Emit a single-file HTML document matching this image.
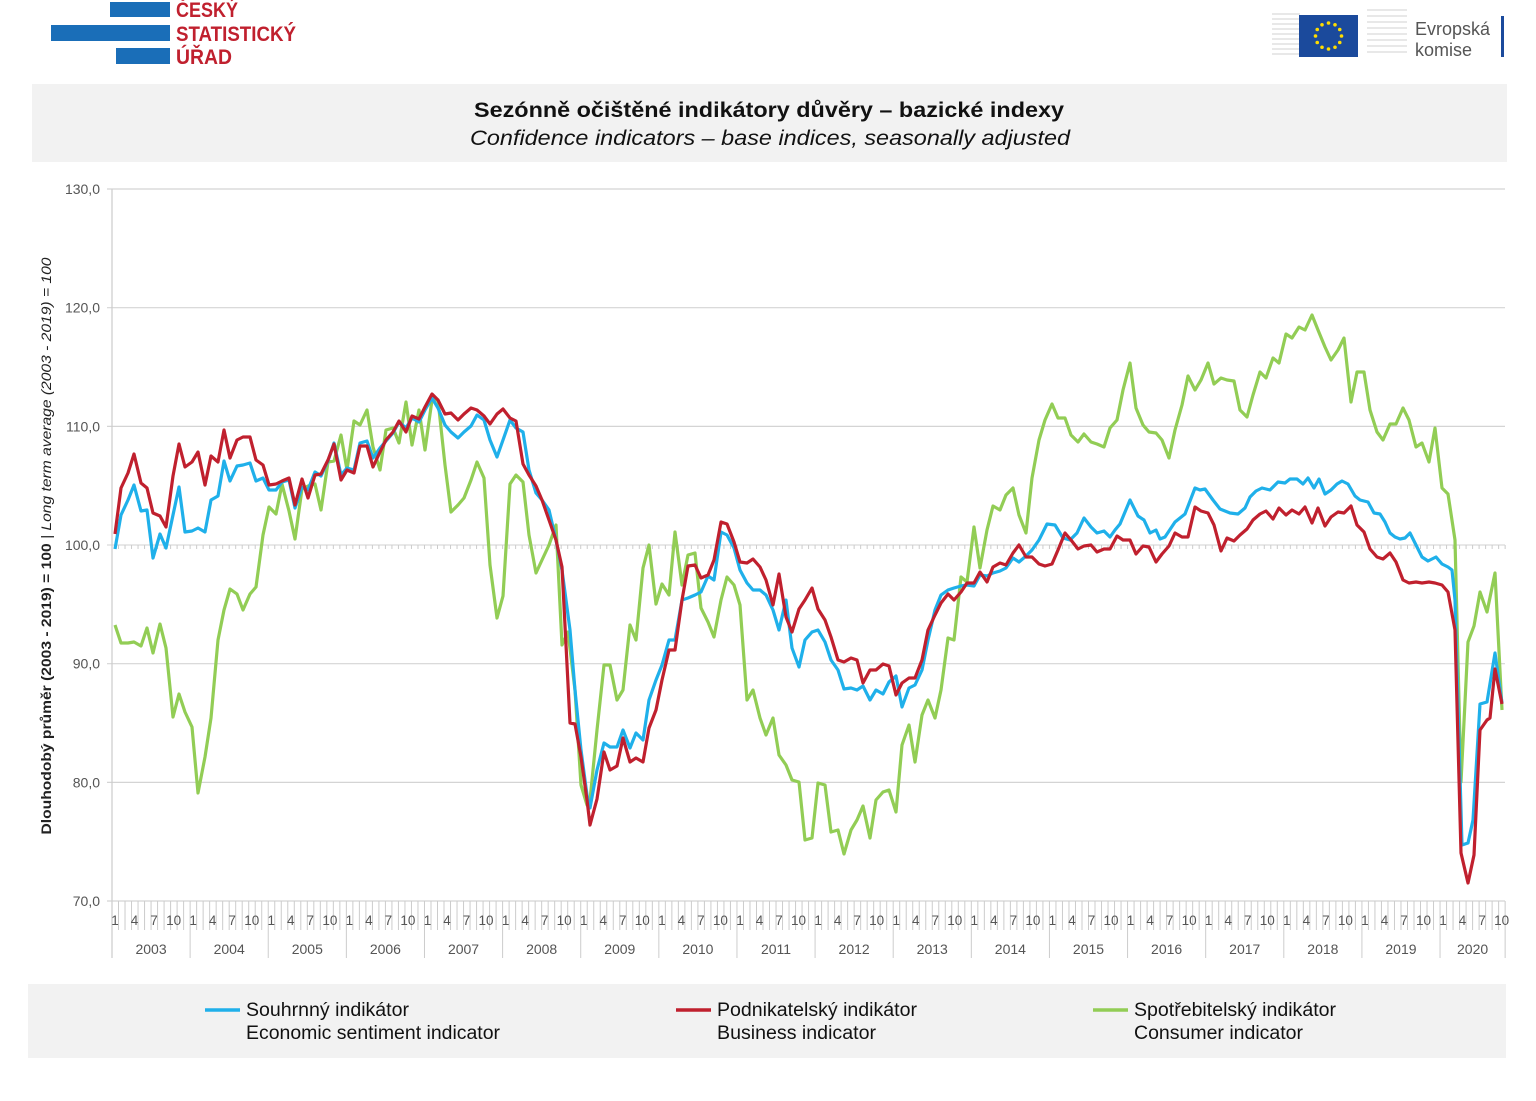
<!DOCTYPE html>
<html><head><meta charset="utf-8"><style>
html,body{margin:0;padding:0;background:#fff}
body{width:1536px;height:1101px;overflow:hidden;position:relative;font-family:"Liberation Sans",sans-serif}
</style></head><body>
<svg id="s" width="1536" height="1101" viewBox="0 0 1536 1101" xmlns="http://www.w3.org/2000/svg" style="position:absolute;left:0;top:0">
<rect x="0" y="0" width="1536" height="1101" fill="#fff"/>
<rect x="110" y="2" width="60" height="15" fill="#1a6eb8"/>
<rect x="51" y="25" width="119" height="16" fill="#1a6eb8"/>
<rect x="116" y="48" width="54" height="16" fill="#1a6eb8"/>
<g font-family="Liberation Sans, sans-serif" font-weight="bold" font-size="21" fill="#c0202e">
<text x="176" y="17" textLength="62" lengthAdjust="spacingAndGlyphs">ČESKÝ</text><text x="176" y="41" textLength="120" lengthAdjust="spacingAndGlyphs">STATISTICKÝ</text><text x="176" y="64" textLength="56" lengthAdjust="spacingAndGlyphs">ÚŘAD</text></g>
<g stroke="#d0d0d0" stroke-width="1">
<path d="M1272 14 H1300 M1272 19 H1300 M1272 24 H1300 M1272 29 H1300 M1272 34 H1300 M1272 39 H1300 M1272 44 H1300 M1272 49 H1300 M1272 54 H1300"/>
<path d="M1367 10 H1407 M1367 16 H1407 M1367 22 H1407 M1367 28 H1407 M1367 34 H1407 M1367 40 H1407 M1367 46 H1407 M1367 52 H1407"/>
</g>
<rect x="1299" y="15" width="59" height="42" fill="#1b4a9c"/>
<g id="stars" fill="#ffdd00"></g>
<text x="1415" y="35" font-size="18" fill="#555">Evropská</text>
<text x="1415" y="56" font-size="18" fill="#555">komise</text>
<rect x="1501" y="16" width="3" height="41" fill="#1b4a9c"/>
<rect x="32" y="84" width="1475" height="78" fill="#f2f2f2"/>
<text x="474" y="117" font-size="21.5" font-weight="bold" fill="#111" textLength="590" lengthAdjust="spacingAndGlyphs">Sezónně očištěné indikátory důvěry – bazické indexy</text>
<text x="470" y="145" font-size="21.5" font-style="italic" fill="#111" textLength="600" lengthAdjust="spacingAndGlyphs">Confidence indicators – base indices, seasonally adjusted</text>
<rect x="28" y="984" width="1478" height="74" fill="#f2f2f2"/>
<g font-size="19" fill="#111">
<line x1="205" y1="1010" x2="240" y2="1010" stroke="#1fb0ea" stroke-width="3.5"/>
<text x="246" y="1016" textLength="163" lengthAdjust="spacingAndGlyphs">Souhrnný indikátor</text><text x="246" y="1039" textLength="254" lengthAdjust="spacingAndGlyphs">Economic sentiment indicator</text>
<line x1="676" y1="1010" x2="711" y2="1010" stroke="#c0202e" stroke-width="3.5"/>
<text x="717" y="1016" textLength="200" lengthAdjust="spacingAndGlyphs">Podnikatelský indikátor</text><text x="717" y="1039" textLength="159" lengthAdjust="spacingAndGlyphs">Business indicator</text>
<line x1="1093" y1="1010" x2="1128" y2="1010" stroke="#92cd55" stroke-width="3.5"/>
<text x="1134" y="1016" textLength="202" lengthAdjust="spacingAndGlyphs">Spotřebitelský indikátor</text><text x="1134" y="1039" textLength="169" lengthAdjust="spacingAndGlyphs">Consumer indicator</text>
</g>
<text transform="translate(51,546) rotate(-90)" text-anchor="middle" font-size="14" fill="#222" textLength="577" lengthAdjust="spacingAndGlyphs"><tspan font-weight="bold">Dlouhodobý průměr (2003 - 2019) = 100</tspan><tspan font-style="italic"> | Long term average (2003 - 2019) = 100</tspan></text>
<g id="axes"></g>
<g id="series" fill="none" stroke-width="3.2" stroke-linejoin="round"></g>
</svg>
<script>
var NS="http://www.w3.org/2000/svg";
function el(p,t,a,txt){var e=document.createElementNS(NS,t);for(var k in a)e.setAttribute(k,a[k]);if(txt!=null)e.textContent=txt;p.appendChild(e);return e;}
var st=document.getElementById('stars');
for(var i=0;i<12;i++){var a=i*Math.PI/6;el(st,'circle',{cx:1328.5+13*Math.cos(a),cy:36+13*Math.sin(a),r:1.8});}
var ax=document.getElementById('axes');
var labs=["130,0","120,0","110,0","100,0","90,0","80,0","70,0"];
for(var j=0;j<7;j++){var y=189+j*118.67;
 if(j==3){el(ax,'line',{x1:107,y1:y,x2:1505,y2:y,stroke:'#d0d0d0','stroke-width':1});
   for(var k=0;k<=214;k++){var x=112+6.51*k;el(ax,'line',{x1:x,y1:y,x2:x,y2:y+4,stroke:'#ccc','stroke-width':1});}}
 else el(ax,'line',{x1:107,y1:y,x2:1505,y2:y,stroke:'#d4d4d4','stroke-width':1.2});
 el(ax,'text',{x:100,y:y+5,'text-anchor':'end','font-size':14,fill:'#555'},labs[j]);}
el(ax,'line',{x1:112,y1:189,x2:112,y2:958,stroke:'#ccc','stroke-width':1.2});
for(var k=0;k<=214;k++){var x=112+6.51*k;var yr=(k%12==0)||k==214;
 el(ax,'line',{x1:x,y1:901,x2:x,y2:yr?958:930,stroke:'#ccc','stroke-width':1});}
for(var k=0;k<214;k++){var m=k%12;if(m%3==0){el(ax,'text',{x:115+6.51*k,y:925,'text-anchor':'middle','font-size':13.5,fill:'#555'},String(m+1));}}
for(var yy=0;yy<18;yy++){var n=yy==17?10:12;el(ax,'text',{x:112+6.51*(12*yy+n/2),y:954,'text-anchor':'middle','font-size':14,fill:'#555'},String(2003+yy));}
var red="115,534 121,488 128,473 134,454 141,483 147,488 153,513 160,516 166,527 173,476 179,444 185,467 192,462 198,452 205,485 211,456 218,462 224,430 230,458 237,440 243,437 250,437 256,460 263,465 269,485 276,484 282,481 289,478 295,505 302,479 308,498 315,475 321,474 328,460 334,444 341,480 347,470 354,473 360,446 367,446 373,467 380,452 386,440 393,432 399,421 406,432 412,416 419,419 425,407 432,394 438,400 445,414 451,413 458,420 464,414 471,408 477,410 484,416 490,424 497,414 503,409 510,418 516,421 523,464 529,475 536,486 542,500 549,520 556,540 562,567 570,723 575,724 581,757 587,800 590,825 597,799 604,752 610,770 617,766 623,738 630,762 636,758 643,762 649,728 656,710 662,680 669,650 675,650 682,600 688,566 695,565 701,578 708,575 714,560 721,522 727,524 734,542 740,562 747,563 753,559 760,567 766,580 773,605 779,574 786,617 792,632 799,609 805,600 812,588 818,609 825,620 831,637 838,660 844,662 851,658 857,660 863,683 870,670 876,670 883,664 889,666 896,695 902,683 909,678 915,678 922,660 928,630 935,615 941,603 948,594 954,600 961,592 967,583 974,583 980,572 987,582 993,567 1000,563 1006,565 1013,553 1019,545 1026,557 1032,557 1039,564 1045,566 1052,564 1058,550 1065,533 1071,540 1078,549 1084,546 1091,545 1097,552 1104,549 1110,549 1117,536 1123,540 1130,540 1136,554 1143,546 1149,547 1156,562 1162,554 1169,546 1175,533 1182,537 1188,537 1195,507 1201,511 1208,513 1214,525 1221,551 1227,538 1234,541 1240,535 1247,529 1253,520 1260,514 1266,511 1273,519 1279,508 1286,515 1292,510 1299,514 1305,507 1312,523 1318,508 1325,526 1331,517 1338,512 1344,513 1351,506 1357,525 1364,532 1370,549 1377,557 1383,559 1390,553 1396,562 1403,580 1409,583 1416,582 1422,583 1429,582 1435,583 1442,585 1448,592 1455,630 1461,853 1468,883 1474,855 1480,730 1487,720 1490,718 1495,669 1502,704";
var blue="115,549 121,515 128,500 134,485 141,511 147,510 153,558 160,534 166,548 173,515 179,487 185,532 192,531 198,528 205,532 211,500 218,496 224,461 230,481 237,466 243,465 250,463 256,481 263,478 269,490 276,490 282,482 289,480 295,508 302,487 308,490 315,472 321,476 328,461 334,443 341,475 347,468 354,470 360,443 367,441 373,458 380,448 386,441 393,433 399,422 406,428 412,418 419,422 425,410 432,398 438,408 445,425 451,432 458,438 464,432 471,426 477,415 484,420 490,440 497,457 503,440 510,420 516,428 523,432 529,470 536,493 542,500 549,510 556,540 562,570 570,630 575,690 581,750 587,795 590,808 597,770 604,743 610,747 617,747 623,730 630,748 636,733 643,740 649,700 656,680 662,665 669,640 675,640 682,600 688,598 695,595 701,592 708,576 714,580 721,532 727,535 734,548 740,570 747,583 753,590 760,590 766,595 773,610 779,630 786,600 792,648 799,667 805,640 812,632 818,630 825,642 831,660 838,670 844,689 851,688 857,690 863,686 870,700 876,690 883,694 889,682 896,676 902,707 909,688 915,685 922,670 928,640 935,610 941,595 948,590 954,588 961,586 967,585 974,586 980,575 987,576 993,573 1000,571 1006,568 1013,558 1019,562 1026,556 1032,550 1039,540 1047,524 1055,525 1063,538 1070,540 1077,533 1084,518 1091,527 1097,533 1104,531 1110,537 1115,530 1120,524 1130,500 1138,516 1144,520 1150,533 1156,530 1160,539 1165,537 1175,522 1185,514 1195,488 1200,490 1205,489 1213,500 1220,509 1230,513 1238,514 1245,508 1250,497 1256,491 1262,488 1270,490 1278,482 1285,483 1290,479 1297,479 1303,484 1308,478 1314,488 1319,479 1325,494 1331,490 1337,484 1342,481 1348,484 1355,496 1360,500 1368,502 1374,513 1380,514 1385,522 1390,533 1395,537 1400,539 1405,538 1410,533 1416,545 1422,557 1428,561 1436,557 1442,564 1448,567 1452,570 1455,600 1462,845 1468,843 1473,820 1480,704 1487,702 1495,653 1502,703";
var green="115,625 121,643 128,643 134,642 141,646 147,628 153,653 160,624 166,648 173,717 179,694 185,712 192,727 198,793 205,757 211,718 218,640 224,610 230,589 237,594 243,610 250,594 256,587 263,535 269,507 276,514 282,484 289,511 295,539 302,489 308,486 315,484 321,510 328,462 334,461 341,435 347,470 354,421 360,425 367,410 373,447 380,470 386,430 393,428 399,443 406,402 412,445 419,410 425,450 432,400 438,400 445,465 451,512 458,505 464,498 471,480 477,462 484,478 490,565 497,618 503,596 510,484 516,475 523,482 529,535 536,573 542,560 549,545 556,525 562,645 568,632 575,690 581,785 587,805 590,800 597,730 604,665 610,665 617,700 623,690 630,625 636,640 643,568 649,545 656,604 662,584 669,595 675,532 682,585 688,555 695,553 701,608 708,622 714,637 721,600 727,577 734,585 740,605 747,700 753,690 760,718 766,735 773,718 779,755 786,765 792,780 799,782 805,840 812,838 818,783 825,785 831,832 838,830 844,854 851,830 857,820 863,806 870,838 876,800 883,792 889,790 896,812 902,745 909,725 915,762 922,715 928,700 935,718 941,690 948,638 954,640 961,577 967,582 974,527 980,568 987,530 993,506 1000,510 1006,495 1013,488 1019,515 1026,533 1032,478 1039,440 1045,420 1052,404 1058,418 1065,418 1071,435 1078,442 1084,434 1091,442 1097,444 1104,447 1110,428 1117,420 1123,390 1130,363 1136,408 1143,425 1149,432 1156,433 1162,440 1169,458 1175,430 1182,405 1188,376 1195,390 1201,380 1208,363 1214,384 1221,378 1227,380 1234,381 1240,410 1247,417 1253,395 1260,372 1266,378 1273,358 1279,363 1286,334 1292,338 1299,327 1305,330 1312,315 1318,330 1325,347 1331,360 1338,350 1344,338 1351,402 1357,372 1364,372 1370,410 1377,432 1383,440 1390,424 1396,424 1403,408 1409,420 1416,447 1422,443 1429,462 1435,428 1442,488 1448,494 1455,540 1461,782 1468,642 1474,626 1480,592 1487,612 1495,573 1502,710";
var sg=document.getElementById('series');
el(sg,'polyline',{points:green,stroke:'#92cd55'});
el(sg,'polyline',{points:blue,stroke:'#1fb0ea'});
el(sg,'polyline',{points:red,stroke:'#c0202e'});
</script>
</body></html>
